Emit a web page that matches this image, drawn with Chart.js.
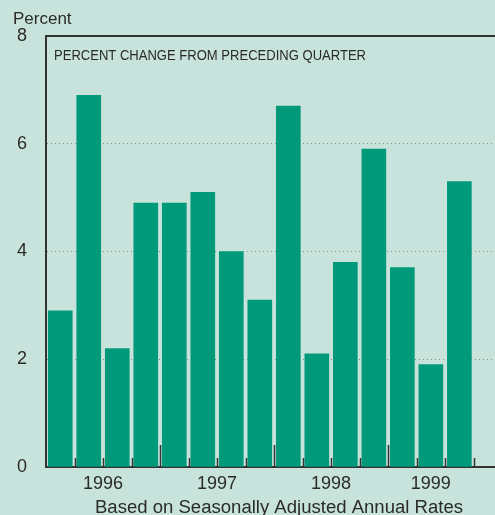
<!DOCTYPE html>
<html>
<head>
<meta charset="utf-8">
<script src="https://cdn.jsdelivr.net/npm/chart.js@4/dist/chart.umd.min.js"></script>
<style>
  body { margin: 0; background: #c8e3dc; }
  #wrap { width: 495px; height: 515px; position: relative; }
</style>
</head>
<body>
<div id="wrap"><canvas id="chart"></canvas></div>
<script>
// quarterly data, 1996 Q1 .. 1999 Q3
const quarters = ['1996 Q1', '1996 Q2', '1996 Q3', '1996 Q4',
                  '1997 Q1', '1997 Q2', '1997 Q3', '1997 Q4',
                  '1998 Q1', '1998 Q2', '1998 Q3', '1998 Q4',
                  '1999 Q1', '1999 Q2', '1999 Q3'];
const pctChange = [2.9, 6.9, 2.2, 4.9, 4.9, 5.1, 4.0, 3.1, 6.7, 2.1, 3.8, 5.9, 3.7, 1.9, 5.3];
const years = ['1996', '1997', '1998', '1999'];
const yTicks = [0, 2, 4, 6, 8];

const ink = '#2a2a2a';
const font = 'Liberation Sans, Arial, sans-serif';

// centre of each year's quarters, in index units
const yearPos = years.map(y => {
  const idx = quarters.map((q, i) => q.startsWith(y) ? i : -1).filter(i => i >= 0);
  return idx.reduce((a, b) => a + b, 0) / idx.length;
});

function fitText(ctx, text, x, y, width) {
  const w = ctx.measureText(text).width;
  ctx.save();
  ctx.translate(x, y);
  ctx.scale(width / w, 1);
  ctx.fillText(text, 0, 0);
  ctx.restore();
}

const decor = {
  id: 'decor',
  afterDatasetsDraw(chart) {
    const { ctx, chartArea, scales } = chart;
    const xs = scales.x;
    ctx.save();
    // top frame line
    ctx.strokeStyle = '#333';
    ctx.lineWidth = 2;
    ctx.beginPath();
    ctx.moveTo(chartArea.left - 1, chartArea.top);
    ctx.lineTo(chartArea.right, chartArea.top);
    ctx.stroke();
    // quarter / year ticks between bars
    ctx.lineWidth = 1.5;
    ctx.strokeStyle = '#333';
    quarters.forEach((q, i) => {
      const px = Math.round(xs.getPixelForValue(i + 0.5)) + 0.5;
      const len = (i + 1) % 4 === 0 && i < quarters.length - 1 ? 22 : 9;
      ctx.beginPath();
      ctx.moveTo(px, chartArea.bottom);
      ctx.lineTo(px, chartArea.bottom - len);
      ctx.stroke();
    });
    // texts
    ctx.fillStyle = ink;
    ctx.textBaseline = 'alphabetic';
    ctx.textAlign = 'left';
    ctx.font = '14px ' + font;
    fitText(ctx, 'PERCENT CHANGE FROM PRECEDING QUARTER', chartArea.left + 8, chartArea.top + 24, 312);
    ctx.font = '17px ' + font;
    ctx.fillText('Percent', 13, 24);
    ctx.font = '18px ' + font;
    fitText(ctx, 'Based on Seasonally Adjusted Annual Rates', 95, 513, 368);
    ctx.restore();
  }
};

new Chart(document.getElementById('chart'), {
  type: 'bar',
  data: {
    datasets: [{
      label: 'Percent change',
      data: pctChange.map((v, i) => ({ x: i, y: v })),
      backgroundColor: '#009a7b',
      barThickness: 24
    }]
  },
  options: {
    responsive: true,
    maintainAspectRatio: false,
    animation: false,
    layout: { padding: { top: 36, right: 0, left: 0, bottom: 0 } },
    plugins: { legend: { display: false }, tooltip: { enabled: false } },
    scales: {
      x: {
        type: 'linear',
        min: -0.5,
        max: 15.25,
        offset: false,
        afterBuildTicks: axis => { axis.ticks = yearPos.map(v => ({ value: v })); },
        afterFit: axis => { axis.height = 48; },
        ticks: {
          autoSkip: false,
          maxRotation: 0,
          padding: 6,
          color: ink,
          font: { family: font, size: 18 },
          callback: (v, i) => years[i]
        },
        grid: { display: false, drawTicks: false, offset: false },
        border: { display: true, color: '#333', width: 2 }
      },
      y: {
        min: 0,
        max: 8,
        afterBuildTicks: axis => { axis.ticks = yTicks.map(v => ({ value: v })); },
        afterFit: axis => { axis.width = 46; },
        ticks: {
          padding: 19,
          color: ink,
          font: { family: font, size: 18 }
        },
        grid: {
          drawTicks: false,
          color: ctx => (ctx.tick && (ctx.tick.value === 0 || ctx.tick.value === 8)) ? 'rgba(0,0,0,0)' : '#8a8a8a',
          lineWidth: 1
        },
        border: { display: true, color: '#333', width: 2, dash: [1, 3] }
      }
    }
  },
  plugins: [decor]
});
</script>
</body>
</html>
